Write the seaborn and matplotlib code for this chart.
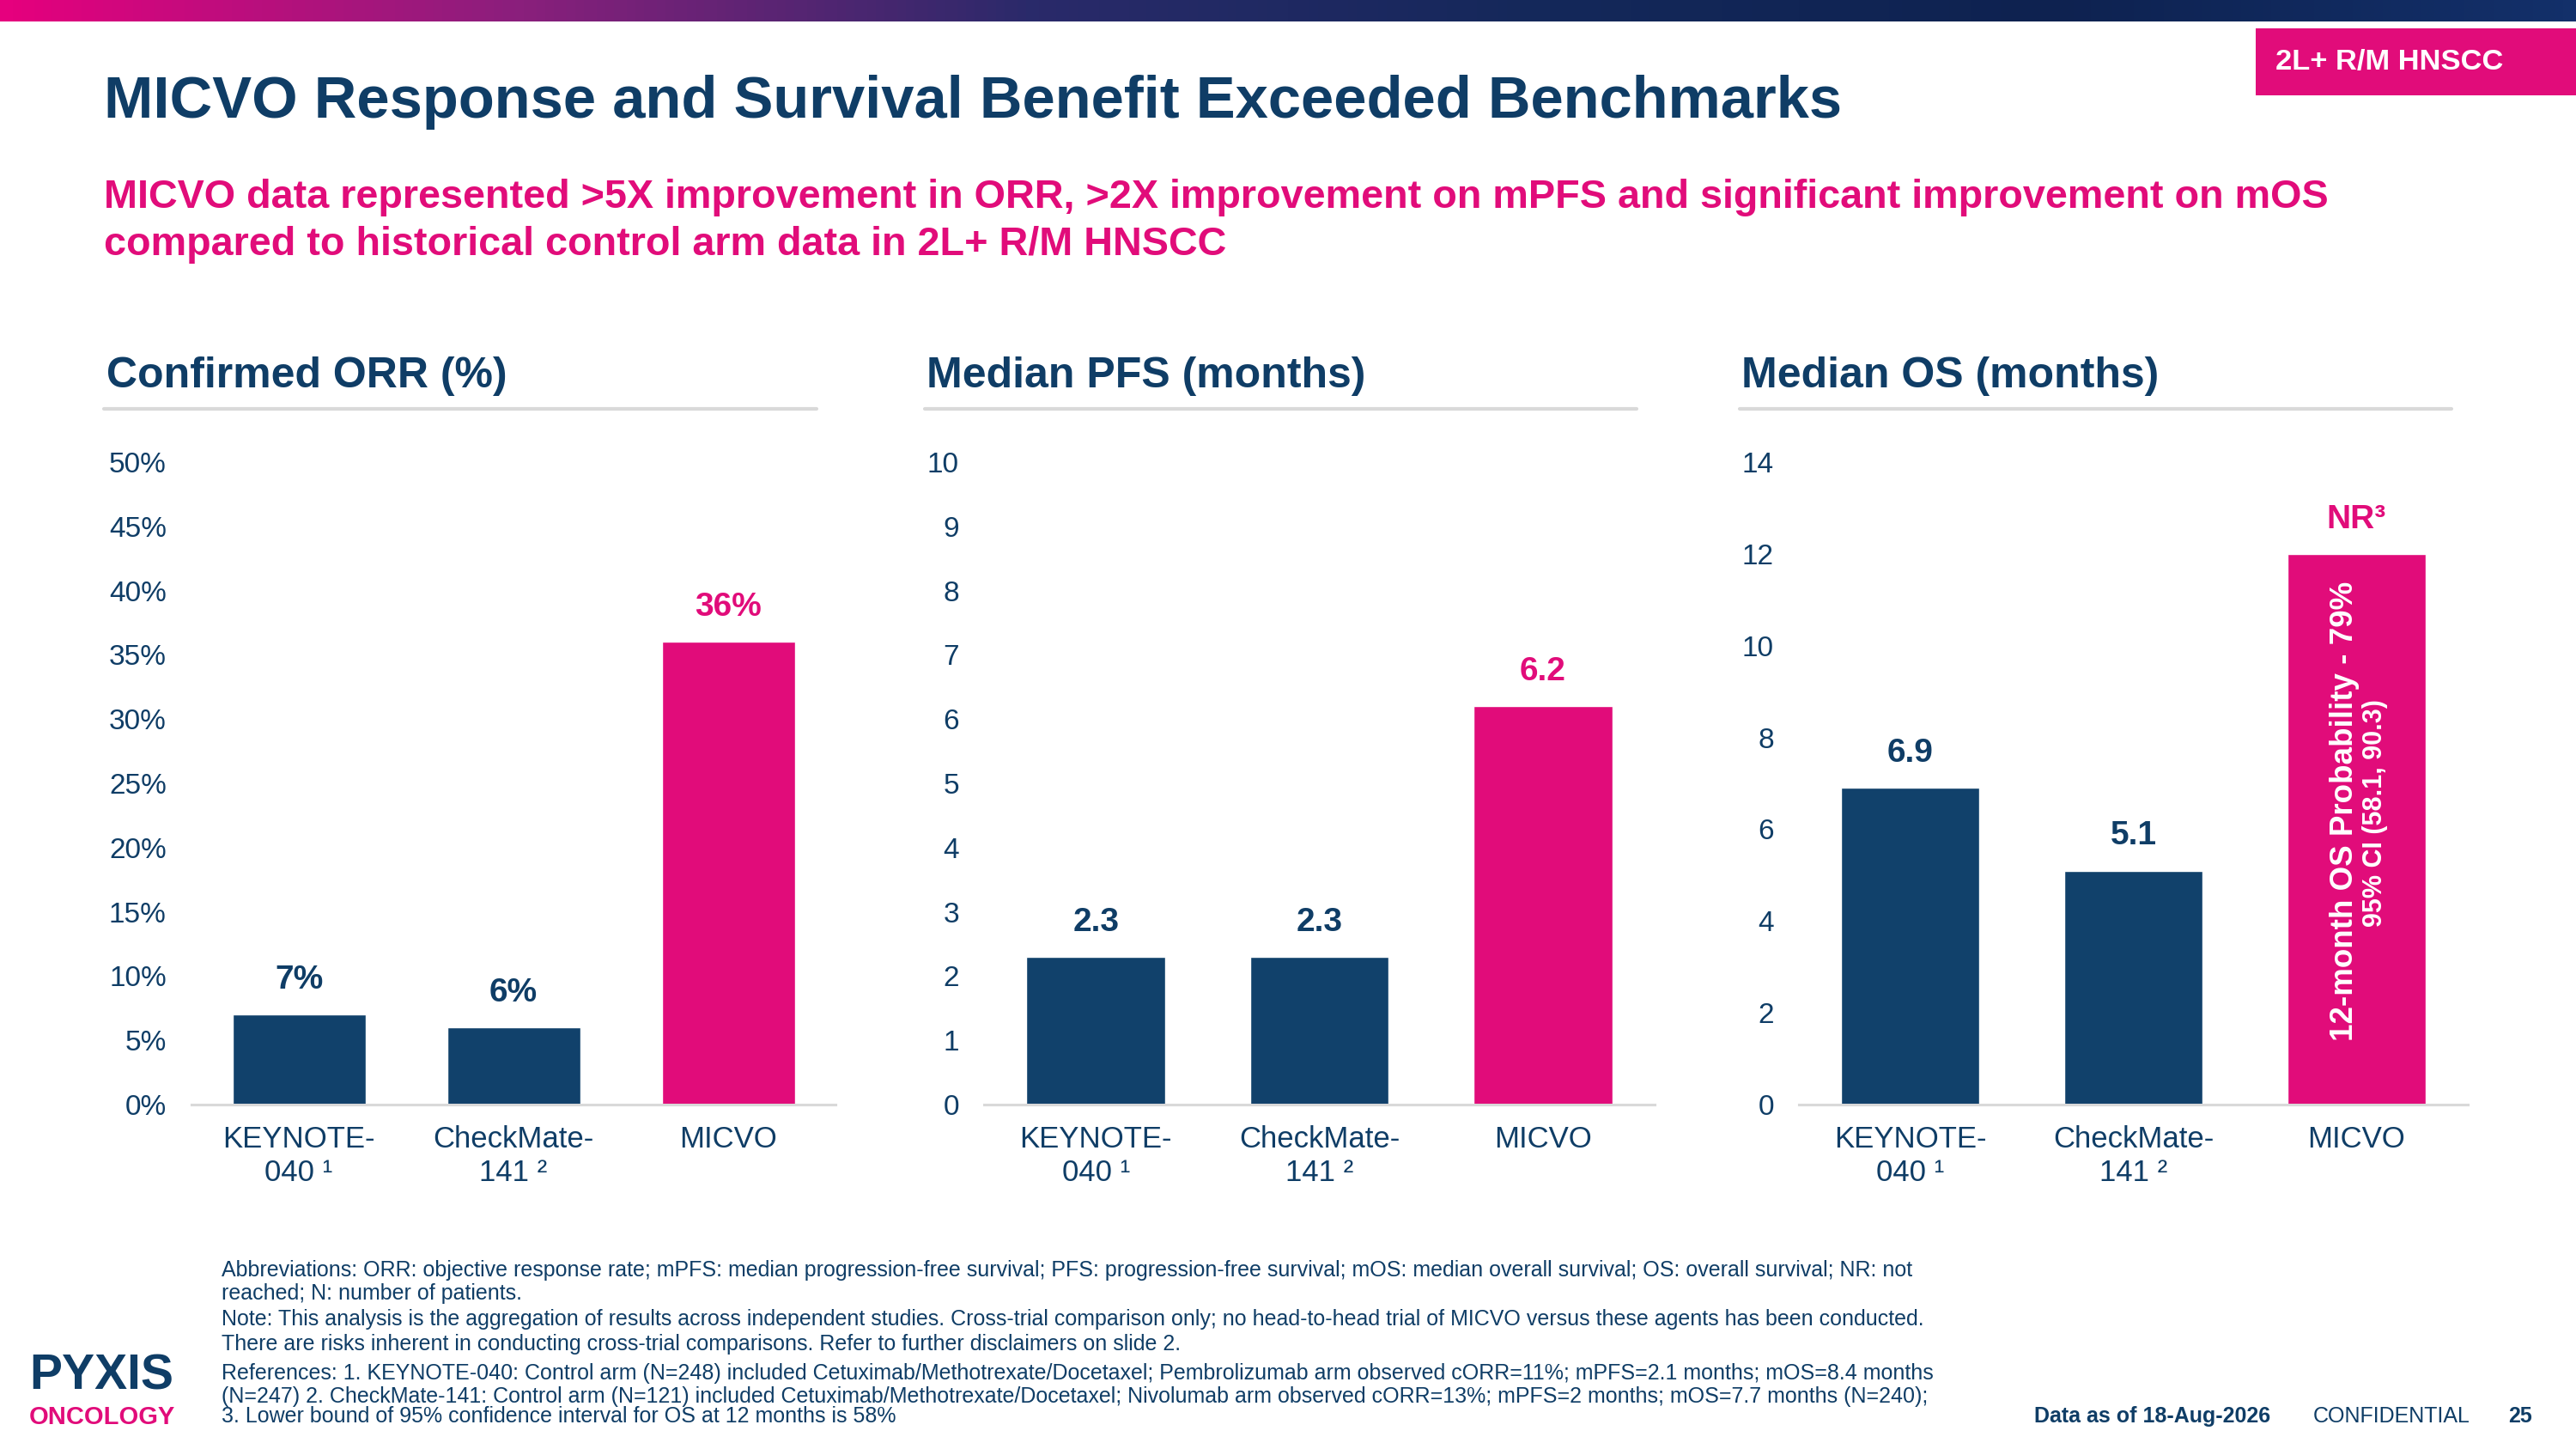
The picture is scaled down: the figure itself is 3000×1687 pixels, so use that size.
import numpy as np
import pandas as pd
import matplotlib.pyplot as plt
import seaborn as sns
from matplotlib.ticker import PercentFormatter
from matplotlib.lines import Line2D
from matplotlib.patches import Rectangle

# Data
groups = ["KEYNOTE-040", "CheckMate-141", "MICVO"]
group_labels = ["KEYNOTE-\n040 ¹", "CheckMate-\n141 ²", "MICVO"]
orr = [7, 6, 36]
orr_text = ["7%", "6%", "36%"]
pfs = [2.3, 2.3, 6.2]
pfs_text = ["2.3", "2.3", "6.2"]
os_months = [6.9, 5.1, 12]   # MICVO median not reached, bar drawn to 12
os_text = ["6.9", "5.1", "NR³"]

NAVY = "#11416b"
PINK = "#e10c7a"
TEXT = "#0f3d66"
GREY = "#d9d9d9"
bar_colors = [NAVY, NAVY, PINK]

sns.set_theme(style="white")
plt.rcParams['font.family'] = ['Liberation Sans', 'DejaVu Sans']

W, H = 3000, 1687
fig = plt.figure(figsize=(W / 100, H / 100), dpi=100)


def fx(px):
    return px / W


def fy(py):
    return 1 - py / H


# top banner gradient
ban = fig.add_axes([0, fy(25), 1, 25 / H])
grad = np.linspace(0, 1, 600).reshape(1, -1)
cmap = sns.blend_palette(["#e6007e", "#8a1f7c", "#2a2a6a", "#14285a", "#0e2250", "#13306a"], as_cmap=True)
ban.imshow(grad, aspect='auto', cmap=cmap)
ban.axis('off')

# tag box top right
fig.add_artist(Rectangle((fx(2627), fy(111)), fx(373), 78 / H, transform=fig.transFigure,
                         color=PINK, lw=0))
fig.text(fx(2650), fy(73), "2L+ R/M HNSCC", color="white", fontsize=24.8, fontweight="bold",
         ha="left", va="center")

# title + subtitle
fig.text(fx(121), fy(119), "MICVO Response and Survival Benefit Exceeded Benchmarks",
         color=TEXT, fontsize=49.5, fontweight="bold", ha="left", va="center")
fig.text(fx(121), fy(230), "MICVO data represented >5X improvement in ORR, >2X improvement on mPFS and significant improvement on mOS",
         color=PINK, fontsize=33.7, fontweight="bold", ha="left", va="center")
fig.text(fx(121), fy(285), "compared to historical control arm data in 2L+ R/M HNSCC",
         color=PINK, fontsize=33.7, fontweight="bold", ha="left", va="center")

panels = [
    ("Confirmed ORR (%)", orr, orr_text, (0, 50), np.arange(0, 51, 5), 223, 750, 124, (121, 951)),
    ("Median PFS (months)", pfs, pfs_text, (0, 10), np.arange(0, 11, 1), 1146, 781, 1079, (1077, 1906)),
    ("Median OS (months)", os_months, os_text, (0, 14), np.arange(0, 15, 2), 2095, 779, 2028, (2026, 2855)),
]

axes = []
for i, (head, vals, vtext, ylim, ticks, left, width, hx, (ul0, ul1)) in enumerate(panels):
    ax = fig.add_axes([fx(left), fy(1286), width / W, 748 / H])
    df = pd.DataFrame({"group": groups, "value": vals})
    sns.barplot(data=df, x="group", y="value", hue="group", palette=bar_colors,
                width=0.62, legend=False, ax=ax, saturation=1)
    ax.set_xlim(-0.5, 2.5)
    ax.set_ylim(*ylim)
    ax.set_yticks(ticks)
    if i == 0:
        ax.yaxis.set_major_formatter(PercentFormatter(decimals=0))
    ax.set_xticks(range(len(groups)))
    ax.set_xticklabels(group_labels, fontsize=25, color=TEXT, linespacing=1.25)
    ax.tick_params(axis='y', labelsize=24, labelcolor=TEXT, length=0, pad=21)
    ax.tick_params(axis='x', length=0, pad=17)
    ax.set_xlabel("")
    ax.set_ylabel("")
    for s in ["top", "right", "left"]:
        ax.spines[s].set_visible(False)
    ax.spines["bottom"].set_color(GREY)
    ax.spines["bottom"].set_linewidth(2.2)
    for j, (v, t) in enumerate(zip(vals, vtext)):
        ax.annotate(t, (j, v), xytext=(0, 29), textcoords="offset points", ha="center", va="center",
                    fontsize=28, fontweight="bold", color=PINK if j == 2 else TEXT)
    # panel heading + grey rule
    fig.text(fx(hx), fy(438), head, color=TEXT, fontsize=36, fontweight="bold", ha="left", va="center")
    fig.add_artist(Line2D([fx(ul0), fx(ul1)], [fy(476), fy(476)], color=GREY, lw=3,
                          transform=fig.transFigure))
    axes.append(ax)

# text inside the MICVO OS bar
axes[2].text(1.946, 6.4, "12-month OS Probability - 79%", rotation=90, ha="center", va="center",
             color="white", fontsize=26.5, fontweight="bold")
axes[2].text(2.085, 6.35, "95% CI (58.1, 90.3)", rotation=90, ha="center", va="center",
             color="white", fontsize=22, fontweight="bold")

# footnotes
notes = [
    (1479, "Abbreviations: ORR: objective response rate; mPFS: median progression-free survival; PFS: progression-free survival; mOS: median overall survival; OS: overall survival; NR: not"),
    (1506, "reached; N: number of patients."),
    (1536, "Note: This analysis is the aggregation of results across independent studies. Cross-trial comparison only; no head-to-head trial of MICVO versus these agents has been conducted."),
    (1565, "There are risks inherent in conducting cross-trial comparisons. Refer to further disclaimers on slide 2."),
    (1599, "References: 1. KEYNOTE-040: Control arm (N=248) included Cetuximab/Methotrexate/Docetaxel; Pembrolizumab arm observed cORR=11%; mPFS=2.1 months; mOS=8.4 months"),
    (1626, "(N=247) 2. CheckMate-141: Control arm (N=121) included Cetuximab/Methotrexate/Docetaxel; Nivolumab arm observed cORR=13%; mPFS=2 months; mOS=7.7 months (N=240);"),
    (1649, "3. Lower bound of 95% confidence interval for OS at 12 months is 58%"),
]
for y, t in notes:
    fig.text(fx(258), fy(y), t, color=TEXT, fontsize=18, ha="left", va="center")

# logo
fig.text(fx(34), fy(1602), "PYXIS", color=TEXT, fontsize=41, fontweight="bold", ha="left", va="center")
fig.text(fx(34), fy(1650), "ONCOLOGY", color=PINK, fontsize=21, fontweight="bold", ha="left", va="center")

# footer right
fig.text(fx(2369), fy(1649), "Data as of 18-Aug-2026", color=TEXT, fontsize=18, fontweight="bold", ha="left", va="center")
fig.text(fx(2694), fy(1649), "CONFIDENTIAL", color=TEXT, fontsize=18, ha="left", va="center")
fig.text(fx(2921), fy(1649), "25", color=TEXT, fontsize=18, fontweight="bold", ha="left", va="center")

fig.savefig("out.png", dpi=100, facecolor="white")
